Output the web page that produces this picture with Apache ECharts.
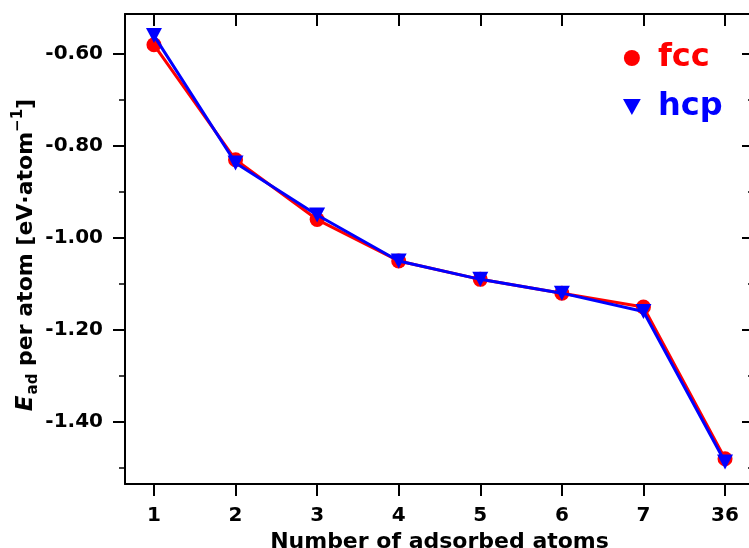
<!DOCTYPE html>
<html>
<head>
<meta charset="utf-8">
<script src="https://cdn.jsdelivr.net/npm/echarts@6/dist/echarts.min.js"></script>
<style>html,body{margin:0;padding:0;background:#fff}#c{width:749px;height:548px}</style>
</head>
<body>
<div id="c"></div>
<script>
var categories = ['1', '2', '3', '4', '5', '6', '7', '36'];
var fccValues = [-0.58, -0.83, -0.96, -1.05, -1.09, -1.12, -1.15, -1.48];
var hcpValues = [-0.56, -0.837, -0.95, -1.05, -1.09, -1.12, -1.16, -1.487];
var yMajorTicks = [-1.4, -1.2, -1.0, -0.8, -0.6];
var yMinorTicks = [-1.5, -1.3, -1.1, -0.9, -0.7];

var idx = categories.map(function (c, i) { return i; });
function pairs(vals) { return vals.map(function (v, i) { return [i, v]; }); }

var FONT = 'DejaVu Sans';
var triDown = 'path://M0,0L10,0L5,9Z';
var X_MIN = -0.355, X_MAX = 7.355, Y_MIN = -1.535, Y_MAX = -0.513;

var chart = echarts.init(document.getElementById('c'), null, {renderer: 'canvas'});
var lineStyleAxis = {show: true, onZero: false, lineStyle: {color: '#000', width: 2}};
var noLine = {show: false, onZero: false};
chart.setOption({
  animation: false,
  backgroundColor: '#fff',
  grid: {left: 125, top: 14, width: 629, height: 470, containLabel: false, outerBoundsMode: 'none'},
  legend: {
    orient: 'vertical', left: 618, top: 37, itemGap: 17,
    itemWidth: 18, itemHeight: 16,
    textStyle: {fontFamily: FONT, fontWeight: 'bold', fontSize: 32, padding: [0, 0, 0, 12]},
    data: [
      {name: 'fcc', icon: 'circle', textStyle: {color: '#ff0000'}},
      {name: 'hcp', icon: triDown, textStyle: {color: '#0000ff'}}
    ]
  },
  xAxis: [{
    type: 'value', position: 'bottom', min: X_MIN, max: X_MAX,
    axisLine: lineStyleAxis, splitLine: {show: false},
    axisTick: {show: true, inside: false, length: 12, customValues: idx, lineStyle: {color: '#000', width: 2}},
    axisLabel: {show: true, customValues: idx, margin: 22, color: '#000', fontFamily: FONT, fontWeight: 'bold', fontSize: 20,
      formatter: function (v) { return categories[Math.round(v)]; }},
    name: 'Number of adsorbed atoms', nameLocation: 'middle', nameGap: 45,
    nameTextStyle: {color: '#000', fontFamily: FONT, fontWeight: 'bold', fontSize: 22}
  }, {
    type: 'value', position: 'top', min: X_MIN, max: X_MAX,
    axisLine: lineStyleAxis, splitLine: {show: false},
    axisTick: {show: true, inside: true, length: 12, customValues: idx, lineStyle: {color: '#000', width: 2}},
    axisLabel: {show: false}
  }],
  yAxis: [{
    type: 'value', position: 'left', min: Y_MIN, max: Y_MAX,
    axisLine: lineStyleAxis, splitLine: {show: false},
    axisTick: {show: true, inside: false, length: 12, customValues: yMajorTicks, lineStyle: {color: '#000', width: 2}},
    axisLabel: {show: true, customValues: yMajorTicks, margin: 22, color: '#000', fontFamily: FONT, fontWeight: 'bold', fontSize: 20,
      formatter: function (v) { return v.toFixed(2); }},
    name: '{i|E}{sub|ad}{n| per atom [eV·atom}{sup|−1}{n|]}',
    nameLocation: 'middle', nameRotate: 90, nameGap: 84, nameMoveOverlap: false,
    nameTextStyle: {
      color: '#000', fontFamily: FONT, fontWeight: 'bold', fontSize: 22, padding: [0, 12, 0, 0],
      rich: {
        i: {fontFamily: FONT, fontWeight: 'bold', fontStyle: 'italic', fontSize: 23, color: '#000', lineHeight: 30, verticalAlign: 'middle'},
        n: {fontFamily: FONT, fontWeight: 'bold', fontSize: 22, color: '#000', lineHeight: 30, verticalAlign: 'middle'},
        sub: {fontFamily: FONT, fontWeight: 'bold', fontSize: 15, color: '#000', lineHeight: 30, verticalAlign: 'bottom', padding: [0, 0, 0, 1]},
        sup: {fontFamily: FONT, fontWeight: 'bold', fontSize: 15, color: '#000', lineHeight: 30, verticalAlign: 'top'}
      }
    }
  }, {
    type: 'value', position: 'left', min: Y_MIN, max: Y_MAX,
    axisLine: noLine, splitLine: {show: false},
    axisTick: {show: true, inside: false, length: 6, customValues: yMinorTicks, lineStyle: {color: '#000', width: 1.5}},
    axisLabel: {show: false}
  }, {
    type: 'value', position: 'right', min: Y_MIN, max: Y_MAX,
    axisLine: lineStyleAxis, splitLine: {show: false},
    axisTick: {show: true, inside: true, length: 12, customValues: yMajorTicks, lineStyle: {color: '#000', width: 2}},
    axisLabel: {show: false}
  }, {
    type: 'value', position: 'right', min: Y_MIN, max: Y_MAX,
    axisLine: noLine, splitLine: {show: false},
    axisTick: {show: true, inside: true, length: 6, customValues: yMinorTicks, lineStyle: {color: '#000', width: 1.5}},
    axisLabel: {show: false}
  }],
  series: [{
    name: 'fcc', type: 'line', xAxisIndex: 0, yAxisIndex: 0,
    data: pairs(fccValues), symbol: 'circle', symbolSize: 15,
    itemStyle: {color: '#ff0000'}, lineStyle: {color: '#ff0000', width: 3}, z: 2
  }, {
    name: 'hcp', type: 'line', xAxisIndex: 0, yAxisIndex: 0,
    data: pairs(hcpValues), symbol: triDown, symbolSize: [16, 15],
    itemStyle: {color: '#0000ff'}, lineStyle: {color: '#0000ff', width: 3}, z: 3
  }]
});
</script>
</body>
</html>
